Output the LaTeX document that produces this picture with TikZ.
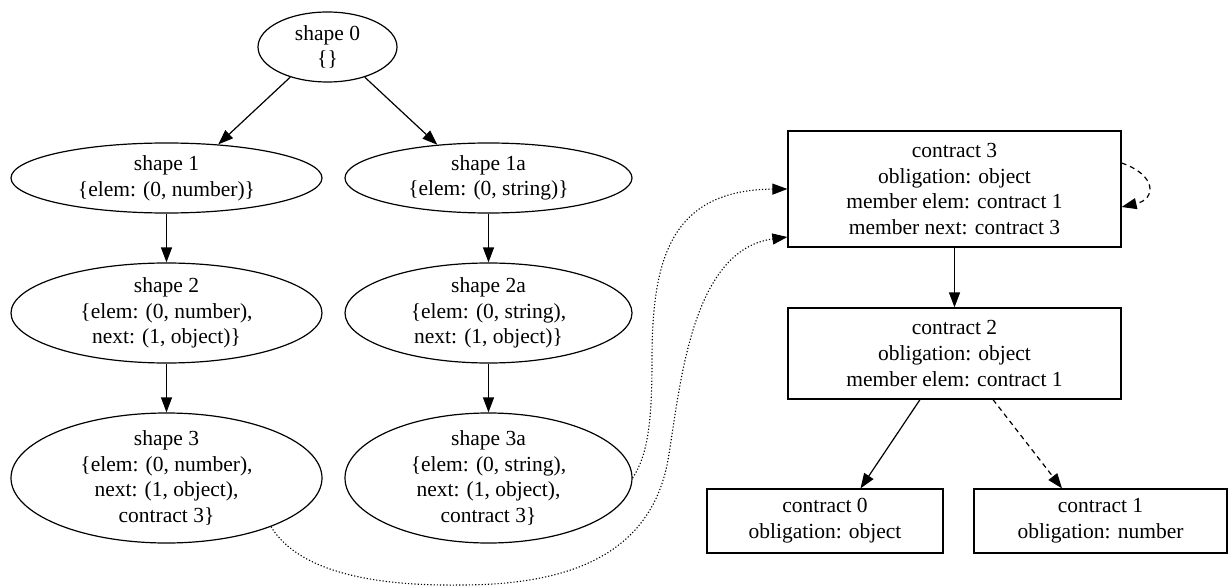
\documentclass[tikz,border=0pt]{standalone}
\usepackage{fontspec}
\setmainfont{Liberation Serif}
\newfontfamily\graphfont{Liberation Serif}
\usetikzlibrary{arrows.meta,shapes.geometric}
\begin{document}
\begin{tikzpicture}[x=1pt,y=-1pt,
  font=\graphfont\fontsize{21.5pt}{25.7pt}\selectfont,
  every node/.style={align=center},
  shapenode/.style={draw, ellipse, line width=1.2pt, inner sep=-4pt},
  boxnode/.style={draw, rectangle, line width=1.2pt, inner sep=0pt},
  link/.style={line width=1.2pt, -{Triangle[length=15pt,width=11pt]}},
  weaklink/.style={link, dash pattern=on 5pt off 4pt},
  reflink/.style={link, line width=1.1pt, dash pattern=on 1.2pt off 2pt},
]
\useasboundingbox (0,0) rectangle (1228,588);

% shapes (ellipses)
\node[shapenode, minimum width=139pt, minimum height=70pt] (s0) at (327.5,47) {shape 0\\\{\}};
\node[shapenode, minimum width=311pt, minimum height=70pt] (s1) at (166.5,178) {shape 1\\\{elem: (0, number)\}};
\node[shapenode, minimum width=287pt, minimum height=70pt] (s1a) at (488.5,178) {shape 1a\\\{elem: (0, string)\}};
\node[shapenode, minimum width=311pt, minimum height=100pt] (s2) at (166.5,313) {shape 2\\\{elem: (0, number),\\next: (1, object)\}};
\node[shapenode, minimum width=287pt, minimum height=100pt] (s2a) at (488.5,313) {shape 2a\\\{elem: (0, string),\\next: (1, object)\}};
\node[shapenode, minimum width=311pt, minimum height=130pt] (s3) at (166.5,478) {shape 3\\\{elem: (0, number),\\next: (1, object),\\contract 3\}};
\node[shapenode, minimum width=287pt, minimum height=130pt] (s3a) at (488.5,478) {shape 3a\\\{elem: (0, string),\\next: (1, object),\\contract 3\}};

% contracts (boxes)
\node[boxnode, minimum width=333pt, minimum height=116pt] (c3) at (954.5,189) {contract 3\\obligation: object\\member elem: contract 1\\member next: contract 3};
\node[boxnode, minimum width=333pt, minimum height=91pt] (c2) at (954.5,353.5) {contract 2\\obligation: object\\member elem: contract 1};
\node[boxnode, minimum width=236pt, minimum height=64pt] (c0) at (825,521) {contract 0\\obligation: object};
\node[boxnode, minimum width=253pt, minimum height=64pt] (c1) at (1100.5,521) {contract 1\\obligation: number};

% shape transitions
\draw[link] (s0.-141) -- (s1.33);
\draw[link] (s0.-39) -- (s1a.147);
\draw[link] (s1) -- (s2);
\draw[link] (s1a) -- (s2a);
\draw[link] (s2) -- (s3);
\draw[link] (s2a) -- (s3a);

% contract structure
\draw[link] (c3) -- (c2);
\draw[link] ([xshift=-34.5pt]c2.south) -- ([xshift=35.5pt]c0.north);
\draw[weaklink] ([xshift=38.5pt]c2.south) -- ([xshift=-38.5pt]c1.north);
\draw[weaklink] ([yshift=26pt]c3.east) .. controls +(35,12) and +(35,-8) .. ([yshift=-18pt]c3.east);

% shapes referring to contracts
\draw[reflink] (s3a.east) .. controls (648,455) and (652,420) .. (652,360)
  .. controls (652,260) and (670,190) .. (c3.west);
\draw[reflink] (s3.-25) .. controls (300,574) and (380,586) .. (460,585)
  .. controls (560,585) and (650,560) .. (668,460)
  .. controls (680,390) and (690,250) .. ([yshift=-48pt]c3.west);
\end{tikzpicture}
\end{document}
